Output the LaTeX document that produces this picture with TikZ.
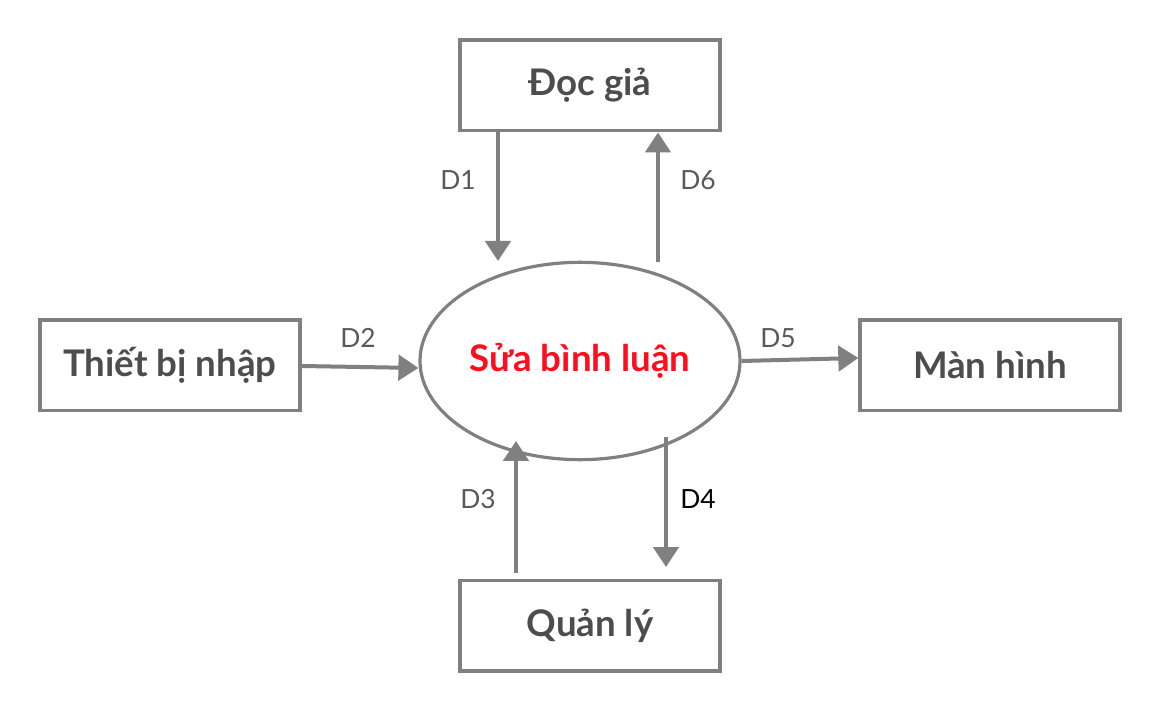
\documentclass[tikz,border=0pt]{standalone}
\usepackage{fontspec}
\setmainfont{Lato}
\usetikzlibrary{arrows.meta,shapes.geometric}
\definecolor{linegray}{HTML}{808080}
\definecolor{textgray}{HTML}{4D4D4D}
\definecolor{labelgray}{HTML}{595959}
\definecolor{procred}{HTML}{FF0D1D}
\tikzset{
  entity/.style={draw=linegray, line width=2.5pt, minimum width=195pt, minimum height=68pt,
    inner sep=0pt, text=textgray, font=\fontsize{27.5}{32}\selectfont\bfseries},
  process/.style={draw=linegray, line width=2.4pt, ellipse, minimum width=240pt, minimum height=148pt,
    inner sep=0pt, text=procred, font=\fontsize{27.5}{32}\selectfont\bfseries},
  flow/.style={draw=linegray, line width=3pt, -{Triangle[width=19pt,length=15pt]}},
  flowlabel/.style={text=labelgray, font=\fontsize{19.8}{24}\selectfont}
}
\begin{document}
\begin{tikzpicture}[x=0.75pt, y=-0.75pt]
			%%%%% START %%%%%
			\useasboundingbox (0,0) rectangle (1160,712);
			
			\node[entity] (reader) at (590, 85.5) {Đọc giả};
			\node[entity] (input) at (170, 365.5) {Thiết bị nhập};
			\node[entity] (screen) at (990, 365.5) {Màn hình};
			\node[entity] (manager) at (590, 625.5) {Quản lý};
			
			\node[process] (edit) at (580, 361) {Sửa bình luận};
			
			\coordinate (d1) at (498, 261);
			\coordinate (d6) at (658, 262);
			\coordinate (d3) at (516, 573);
			\coordinate (d4) at (666, 437);
			
			\draw[flow] (reader.south -| d1) -- (d1);
			\draw[flow] (d6) -- (reader.south -| d6);
			\draw[flow] (input.east |- 0,366) -- (edit.west |- 0,368);
			\draw[flow] (edit.east |- 0,361) -- (screen.west |- 0,358);
			\draw[flow] (d3) -- (516, 441);
			\draw[flow] (d4) -- (666, 567);
			
			\node[flowlabel] (l1) at (458, 180) {D1};
			\node[flowlabel] (l6) at (698, 180) {D6};
			\node[flowlabel] (l2) at (358, 338) {D2};
			\node[flowlabel] (l5) at (778, 338) {D5};
			\node[flowlabel] (l3) at (478, 499) {D3};
			\node[flowlabel, text=black] (l4) at (698, 499) {D4};
			%%%%% END %%%%%
\end{tikzpicture}
\end{document}
